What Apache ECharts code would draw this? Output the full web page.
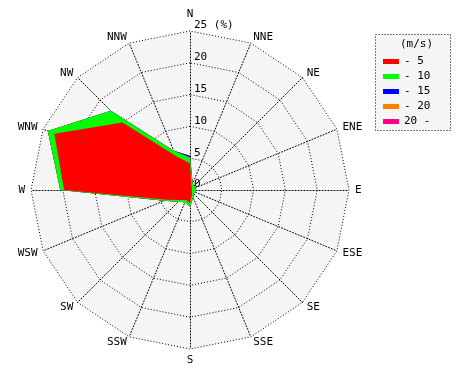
<!DOCTYPE html>
<html>
<head>
<meta charset="utf-8">
<script src="https://cdn.jsdelivr.net/npm/echarts@6/dist/echarts.min.js"></script>
<style>
  html, body { margin: 0; padding: 0; background: #fff; }
  #chart { width: 470px; height: 380px; }
</style>
</head>
<body>
<div id="chart"></div>
<script>
// directions, clockwise from north
const directions = ['N', 'NNE', 'NE', 'ENE', 'E', 'ESE', 'SE', 'SSE',
                    'S', 'SSW', 'SW', 'WSW', 'W', 'WNW', 'NW', 'NNW'];
const speedClasses = ['- 5', '- 10', '- 15', '- 20', '20 -'];
const classColors = ['#ff0000', '#00ff00', '#0000ff', '#ff8000', '#ff0080'];

// frequency (%) of each speed class per direction
const freq5   = [4.2, 0.6, 0.4, 0.3, 0.3, 0.3, 0.4, 0.8, 2.1, 1.7, 2.2, 4.0, 19.8, 23.1, 15.0, 5.8];
const freq10  = [0.9, 0.5, 0.5, 0.6, 0.7, 0.5, 0.4, 0.5, 0.5, 0.4, 0.4, 0.4, 0.6, 1.1, 2.6, 0.9];
const freq15  = [0.3, 0, 0, 0, 0, 0, 0, 0, 0, 0, 0, 0, 0, 0, 0, 0];
const freq20  = [0, 0, 0, 0, 0, 0, 0, 0, 0, 0, 0, 0, 0, 0, 0, 0];
const freq20p = [0, 0, 0, 0, 0, 0, 0, 0, 0, 0, 0, 0, 0, 0, 0, 0];

const radialTicks = [0, 5, 10, 15, 20, 25];

const font = 'DejaVu Sans Mono';
const classes = [freq5, freq10, freq15, freq20, freq20p];

// radar goes counter-clockwise, so reorder N, NNW, NW, ...
const order = directions.map((d, i) => (16 - i) % 16);

// cumulative totals for stacking
let running = directions.map(() => 0);
const stacked = classes.map(arr => {
  running = running.map((v, i) => v + arr[i]);
  return running.slice();
});

const indicator = order.map((idx, k) => {
  const ind = { name: directions[idx], min: 0, max: radialTicks[radialTicks.length - 1] };
  if (k === 0) {
    ind.axisLabel = {
      show: true,
      fontFamily: font,
      fontSize: 11,
      color: '#000',
      align: 'left',
      verticalAlign: 'bottom',
      margin: -4,
      formatter: v => (v === 25 ? '25 (%)' : String(v))
    };
  }
  return ind;
});

const series = stacked.map((vals, i) => ({
  type: 'radar',
  name: speedClasses[i],
  z: 10 - i,
  symbol: 'none',
  silent: true,
  lineStyle: { width: 0 },
  itemStyle: { color: classColors[i] },
  areaStyle: { color: classColors[i], opacity: 1 },
  data: [{ value: order.map(idx => vals[idx]), name: speedClasses[i] }]
}));

const chart = echarts.init(document.getElementById('chart'));
chart.setOption({
  animation: false,
  title: {
    text: '(m/s)',
    left: 395,
    top: 34,
    textStyle: { fontFamily: font, fontSize: 11, fontWeight: 'normal', color: '#000' }
  },
  legend: {
    data: speedClasses,
    orient: 'vertical',
    left: 378,
    top: 51,
    icon: 'rect',
    itemWidth: 16,
    itemHeight: 5,
    itemGap: 4,
    selectedMode: false,
    textStyle: { fontFamily: font, fontSize: 11, color: '#000', lineHeight: 11 }
  },
  graphic: [{
    type: 'rect',
    shape: { x: 375.5, y: 34.5, width: 75, height: 96 },
    style: { fill: '#f5f5f5', stroke: '#000', lineWidth: 1, lineDash: [1, 2] },
    z: -1
  }],
  radar: {
    center: [190, 190],
    radius: 159,
    startAngle: 90,
    shape: 'polygon',
    splitNumber: 5,
    indicator: indicator,
    axisName: { color: '#000', fontFamily: font, fontSize: 11 },
    nameGap: 6,
    axisLine: { lineStyle: { color: '#000', type: [1, 2], width: 1 } },
    axisTick: { show: false },
    axisLabel: { show: false },
    splitLine: { lineStyle: { color: '#000', type: [1, 2], width: 1 } },
    splitArea: { show: true, areaStyle: { color: ['#f5f5f5'] } }
  },
  series: series
});
</script>
</body>
</html>
